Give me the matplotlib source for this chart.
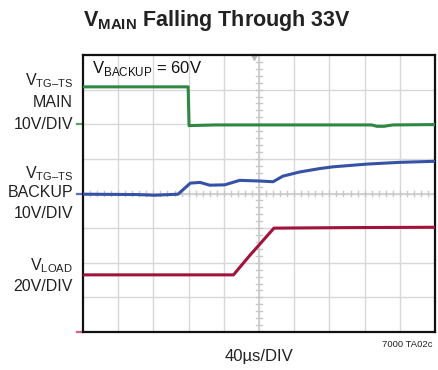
import matplotlib
matplotlib.use("Agg")
import matplotlib.pyplot as plt
import numpy as np

plt.rcParams['font.family'] = ['Liberation Sans', 'DejaVu Sans']
plt.rcParams['mathtext.fontset'] = 'custom'
plt.rcParams['mathtext.rm'] = 'Liberation Sans'
plt.rcParams['mathtext.bf'] = 'Liberation Sans:bold'

# time base: 40us/div, 10 divisions
US_PER_DIV = 40.0

# V_TG-TS MAIN trace (volts), 10V/div, ground at div 6
main_t = [0, 119.5, 120.5, 150, 328, 334, 342, 352, 400]
main_v = [10.8, 10.8, -0.4, -0.2, -0.2, -0.6, -0.6, -0.2, -0.1]

# V_TG-TS BACKUP trace (volts), 10V/div, ground at div 4
backup_t = [0, 60, 82, 99, 108, 122, 133, 144, 161, 178, 201, 216,
            227, 246, 269, 284, 323, 360, 400]
backup_v = [-0.2, -0.3, -0.5, -0.3, -0.2, 3.0, 3.2, 2.4, 2.5, 3.8, 3.6, 3.4,
            5.0, 6.2, 7.2, 7.7, 8.5, 9.0, 9.3]

# V_LOAD trace (volts), 20V/div, ground at div 0
load_t = [0, 171, 190, 217, 300, 400]
load_v = [33, 33, 44.5, 60, 60.3, 60.5]

GREEN = '#2f8744'
BLUE = '#3651a6'
RED = '#a2123b'


def to_div(t, v, ground, volts_per_div):
    x = np.array(t) / US_PER_DIV
    y = ground + np.array(v) / volts_per_div
    return x, y


fig = plt.figure(figsize=(4.38, 3.70), dpi=100)
ax = fig.add_axes([83 / 438, 1 - 332 / 370, 352 / 438, 277 / 370])
ax.set_xlim(0, 10)
ax.set_ylim(0, 8)
ax.set_xticks([])
ax.set_yticks([])
for s in ax.spines.values():
    s.set_linewidth(1.6)
    s.set_color('#111111')

# scope graticule
for i in range(1, 10):
    ax.axvline(i, color='#d8d8d8', lw=1.0, zorder=1)
for j in range(1, 8):
    ax.axhline(j, color='#d8d8d8', lw=1.0, zorder=1)
ax.axvline(5, color='#d0d0d0', lw=1.4, zorder=1)
ax.axhline(4, color='#d0d0d0', lw=1.4, zorder=1)
for k in np.arange(0.2, 10, 0.2):
    ax.plot([k, k], [4 - 0.06, 4 + 0.06], color='#c8c8c8', lw=1.0, zorder=1)
for k in np.arange(0.2, 8, 0.2):
    ax.plot([5 - 0.075, 5 + 0.075], [k, k], color='#c8c8c8', lw=1.0, zorder=1)

# trigger marker
ax.plot([4.86], [7.95], marker='v', color='#b8b8b8', ms=5, clip_on=False, zorder=2)

x, y = to_div(main_t, main_v, 6, 10)
ax.plot(x, y, color=GREEN, lw=2.2, zorder=3)
x, y = to_div(backup_t, backup_v, 4, 10)
ax.plot(x, y, color=BLUE, lw=2.2, zorder=3)
x, y = to_div(load_t, load_v, 0, 20)
ax.plot(x, y, color=RED, lw=2.2, zorder=3)

# ground markers
for g, c in [(6, '#5aa56a'), (4, '#5a72b8'), (0, '#c76a86')]:
    ax.plot([-0.17, -0.06], [g, g], color=c, lw=1.6, clip_on=False)

ax.text(0.25, 7.47, r'V$_{\mathrm{BACKUP}}$ = 60V', fontsize=12, va='baseline',
        color='#111111')

# channel labels
lx = 73 / 438
labels = [
    (85, r'V$_{\mathrm{TG–TS}}$'), (107, 'MAIN'), (129, '10V/DIV'),
    (178, r'V$_{\mathrm{TG–TS}}$'), (197, 'BACKUP'), (218, '10V/DIV'),
    (270, r'V$_{\mathrm{LOAD}}$'), (291, '20V/DIV'),
]
for yb, txt in labels:
    fig.text(lx, 1 - yb / 370, txt, ha='right', va='baseline', fontsize=11.5,
             color='#222222')

fig.text(83 / 438, 1 - 26 / 370, r'$\mathbf{V_{MAIN}}$ Falling Through 33V',
         fontsize=15.5, fontweight='bold', va='baseline', color='#222222')

fig.text(259 / 438, 1 - 361 / 370, '40µs/DIV', ha='center', va='baseline',
         fontsize=12, color='#222222')
fig.text(432 / 438, 1 - 347 / 370, '7000 TA02c', ha='right', va='baseline',
         fontsize=6.8, color='#222222')

fig.savefig('out.png', dpi=100)
